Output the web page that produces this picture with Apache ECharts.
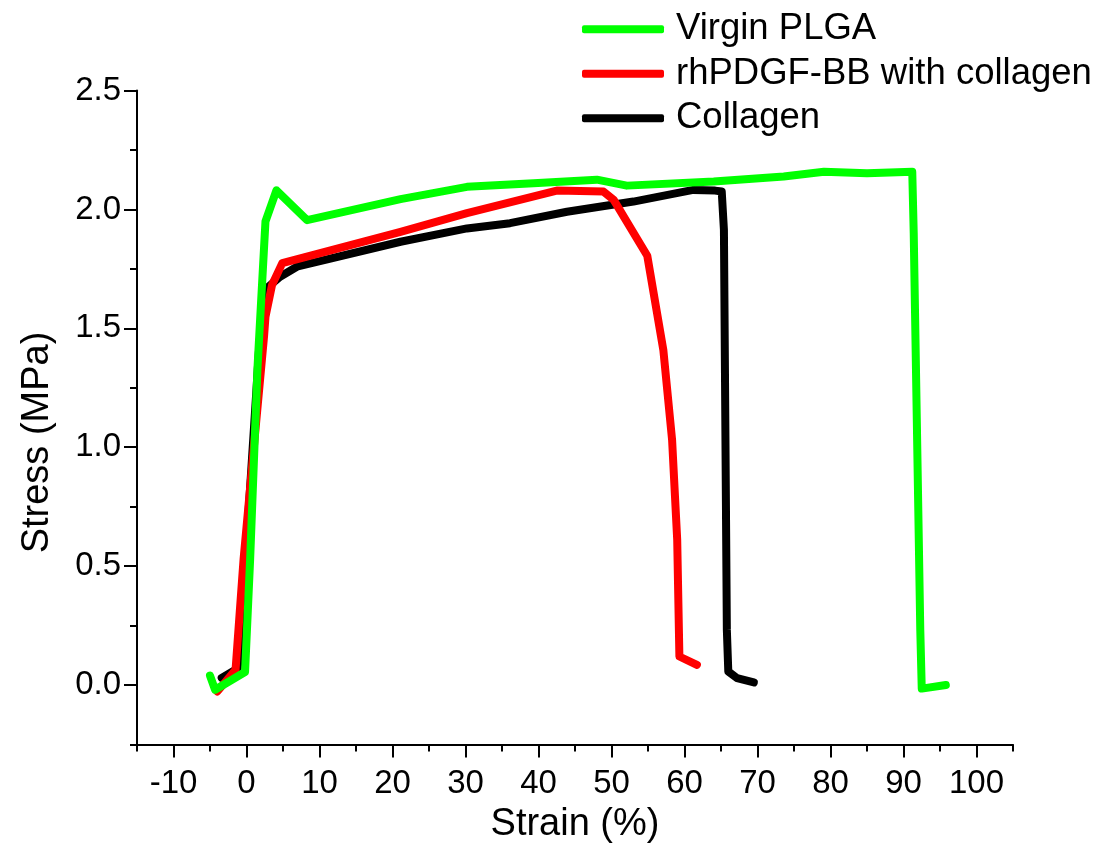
<!DOCTYPE html>
<html>
<head>
<meta charset="utf-8">
<script src="https://cdn.jsdelivr.net/npm/echarts@6/dist/echarts.min.js"></script>
<style>html,body{margin:0;padding:0;background:#fff}#c{width:1100px;height:859px}</style>
</head>
<body>
<div id="c"></div>
<script>
// ---- data ----
const seriesNames = ['Virgin PLGA', 'rhPDGF-BB with collagen', 'Collagen'];
const plgaX = [-5.0,-4.3,-0.2,0.5,1.5,2.6,4.1,8.3,21.1,30.2,39.3,48.0,52.1,64.0,73.6,79.1,85.0,91.2,91.4,92.3,92.5,95.8];
const plgaY = [0.04,-0.02,0.055,0.53,1.33,1.95,2.08,1.955,2.043,2.095,2.11,2.125,2.1,2.117,2.138,2.158,2.152,2.158,1.9,0.23,-0.015,0.0];
const pdgfX = [-4.0,-1.5,-0.4,2.4,2.6,3.5,4.9,21.1,30.2,42.5,48.9,50.3,54.9,57.1,58.3,59.0,59.3,61.7];
const pdgfY = [-0.027,0.064,0.53,1.465,1.549,1.682,1.774,1.906,1.984,2.079,2.075,2.04,1.805,1.409,1.031,0.611,0.12,0.085];
const collX = [-3.4,-1.2,-0.2,1.8,3.0,4.6,6.9,21.1,30.2,36.1,43.9,53.0,61.2,64.2,65.1,65.4,65.8,66.0,67.2,69.5];
const collY = [0.03,0.07,0.5,1.45,1.675,1.717,1.759,1.864,1.92,1.942,1.99,2.033,2.082,2.079,2.075,1.914,0.233,0.057,0.029,0.011];
const xMajorTicks = [-10,0,10,20,30,40,50,60,70,80,90,100];
const xMinorTicks = [-15,-5,5,15,25,35,45,55,65,75,85,95,105];
const yMajorTicks = [0,0.5,1.0,1.5,2.0,2.5];
const yMinorTicks = [-0.25,0.25,0.75,1.25,1.75,2.25];
const colors = {'Virgin PLGA':'#00ff00','rhPDGF-BB with collagen':'#ff0000','Collagen':'#000000'};

const zip = (xs, ys) => xs.map((x, i) => [x, ys[i]]);
const FONT = "'Liberation Sans', Arial, sans-serif";
const X_MIN = -15, X_MAX = 105, Y_MIN = -0.25, Y_MAX = 2.5;

const axisCommon = {
  type: 'value', splitLine: {show: false},
  axisLine: {show: true, onZero: false, lineStyle: {color: '#000', width: 2}},
};

const chart = echarts.init(document.getElementById('c'), null, {renderer: 'canvas'});
const lineSeries = (name, data) => ({
  name, type: 'line', data, showSymbol: false, symbol: 'none',
  xAxisIndex: 0, yAxisIndex: 0,
  lineStyle: {color: colors[name], width: 8, cap: 'round', join: 'round'},
  itemStyle: {color: colors[name]},
  animation: false
});

chart.setOption({
  backgroundColor: '#fff',
  animation: false,
  grid: {left: 137, right: 87, top: 90.5, bottom: 114.5},
  legend: {
    data: seriesNames, orient: 'vertical', left: 582, top: 7, padding: 0,
    itemWidth: 82, itemHeight: 8, itemGap: 0, icon: 'roundRect',
    textStyle: {fontFamily: FONT, fontSize: 36.5, color: '#000', lineHeight: 44.5, padding: [0,0,0,7]}
  },
  xAxis: [
    Object.assign({}, axisCommon, {
      min: X_MIN, max: X_MAX, position: 'bottom',
      name: 'Strain (%)', nameLocation: 'middle', nameGap: 61,
      nameTextStyle: {fontFamily: FONT, fontSize: 38, color: '#000'},
      axisTick: {show: true, inside: false, length: 13, customValues: xMajorTicks, lineStyle: {color: '#000', width: 2}},
      axisLabel: {customValues: xMajorTicks, fontFamily: FONT, fontSize: 33, color: '#000', margin: 23}
    }),
    Object.assign({}, axisCommon, {
      min: X_MIN, max: X_MAX, position: 'bottom', offset: 0,
      axisLine: {show: false, onZero: false},
      axisTick: {show: true, inside: false, length: 7, customValues: xMinorTicks, lineStyle: {color: '#000', width: 2}},
      axisLabel: {show: false}
    })
  ],
  yAxis: [
    Object.assign({}, axisCommon, {
      min: Y_MIN, max: Y_MAX, position: 'left',
      name: 'Stress (MPa)', nameLocation: 'middle', nameGap: 80, nameRotate: 90,
      nameTextStyle: {fontFamily: FONT, fontSize: 38, color: '#000', padding: [0, 50, 0, 0]},
      axisTick: {show: true, inside: false, length: 13, customValues: yMajorTicks, lineStyle: {color: '#000', width: 2}},
      axisLabel: {customValues: yMajorTicks, fontFamily: FONT, fontSize: 33, color: '#000', margin: 16,
        formatter: v => v.toFixed(1)}
    }),
    Object.assign({}, axisCommon, {
      min: Y_MIN, max: Y_MAX, position: 'left', offset: 0,
      axisLine: {show: false, onZero: false},
      axisTick: {show: true, inside: false, length: 7, customValues: yMinorTicks, lineStyle: {color: '#000', width: 2}},
      axisLabel: {show: false}
    })
  ],
  series: [
    lineSeries('Collagen', zip(collX, collY)),
    lineSeries('rhPDGF-BB with collagen', zip(pdgfX, pdgfY)),
    lineSeries('Virgin PLGA', zip(plgaX, plgaY))
  ]
});
</script>
</body>
</html>
